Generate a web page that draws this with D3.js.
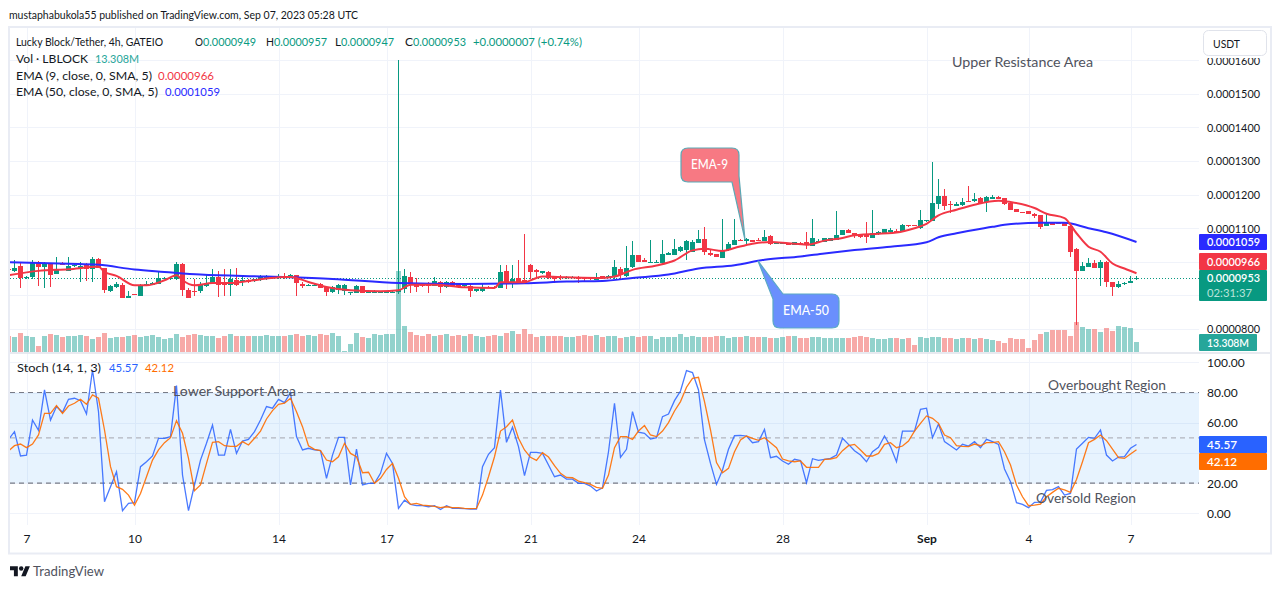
<!DOCTYPE html>
<html><head><meta charset="utf-8">
<script src="https://cdnjs.cloudflare.com/ajax/libs/d3/7.8.5/d3.min.js"></script>
<style>html,body{margin:0;padding:0;background:#fff;overflow:hidden}svg{display:block}text{font-family:Lato,"Noto Sans",sans-serif}</style>
</head><body><div id="c"></div>
<script>
// Prices are in units of 0.0000001 USDT. First entry of each bar array is the partly hidden bar before the first full one.
const open=[980,973,987,951,955,999,985,995,963,994,973,987,982,990,979,1008,983,913,925,932,892,903,898,932,932,934,950,951,950,993,917,912,912,928,938,954,940,930,947,942,947,942,946,952,952,952,958,957,962,935,929,929,933,924,910,917,913,907,907,927,908,908,908,908,908,909,919,956,934,934,934,929,941,926,941,934,927,929,912,912,926,926,921,974,934,952,946,989,976,966,971,957,955,952,953,955,952,952,946,957,954,959,979,957,984,1019,1004,997,997,996,1021,1020,1031,1036,1029,1056,1067,1026,1023,1010,1034,1049,1066,1062,1065,1066,1062,1076,1054,1053,1057,1050,1057,1058,1047,1058,1060,1063,1065,1080,1095,1085,1082,1082,1072,1083,1083,1088,1092,1090,1109,1109,1100,1120,1120,1172,1196,1172,1167,1169,1181,1181,1190,1178,1188,1194,1189,1176,1157,1148,1150,1142,1138,1107,1117,1116,1117,1107,1038,974,985,995,983,1000,940,925,935,937,949];
const close=[975,983,952,954,998,985,995,961,975,992,987,990,988,979,1008,983,915,927,935,892,899,901,930,935,938,953,952,953,993,915,892,910,930,938,954,932,932,950,931,945,939,949,957,955,955,959,955,961,937,928,932,931,922,910,924,930,930,909,927,907,910,909,910,909,910,917,959,934,926,927,927,944,924,941,927,924,931,914,918,924,923,922,971,934,949,936,936,969,969,972,952,950,952,956,956,950,949,948,955,953,958,986,961,982,1019,998,998,1000,1000,1022,1026,1037,1043,1061,1058,1067,1029,1021,1014,1031,1052,1064,1064,1068,1060,1062,1074,1054,1059,1058,1051,1058,1053,1050,1070,1062,1070,1070,1080,1095,1087,1077,1075,1075,1085,1089,1097,1095,1088,1110,1107,1107,1125,1123,1175,1196,1167,1170,1172,1179,1179,1187,1176,1194,1192,1187,1171,1155,1148,1146,1143,1137,1103,1117,1111,1114,1107,1030,974,988,997,983,1000,941,925,934,938,943,953];
const high=[985,1005,998,957,1005,1002,998,997,1013,1000,1013,992,998,995,1013,1010,983,930,940,938,912,905,935,943,940,970,956,955,998,995,923,950,940,962,980,972,978,978,981,958,949,950,960,962,957,965,967,965,962,940,935,937,937,925,927,933,935,909,930,927,915,915,913,912,912,1600,979,971,951,937,939,956,944,944,944,935,932,934,920,934,928,927,989,989,989,1006,1082,994,980,974,974,959,961,959,958,958,956,953,968,958,962,1004,986,1048,1061,1019,1010,1066,1004,1064,1029,1069,1047,1064,1066,1094,1105,1036,1023,1127,1059,1127,1068,1072,1065,1071,1094,1079,1059,1059,1057,1058,1058,1088,1127,1067,1070,1070,1151,1095,1097,1085,1084,1117,1154,1092,1097,1101,1099,1112,1111,1110,1154,1125,1297,1246,1217,1181,1177,1190,1226,1205,1194,1196,1198,1195,1190,1176,1157,1149,1150,1146,1139,1145,1118,1117,1118,1110,1040,1000,1012,1005,1005,1003,940,943,941,958,957];
const low=[970,970,922,949,950,928,922,925,963,990,973,985,940,943,940,983,908,910,923,892,892,900,898,930,932,934,948,947,945,898,892,898,908,925,935,895,898,898,928,928,937,941,943,947,950,948,950,953,898,922,927,927,922,897,908,903,900,900,907,907,908,907,907,907,907,905,906,906,909,925,906,927,906,922,926,923,926,896,911,911,921,921,921,919,921,934,934,949,954,964,949,936,946,948,952,936,939,947,946,952,952,949,949,956,981,998,998,997,996,996,1019,1019,1029,1004,1028,1056,1019,1017,1014,1010,1031,1049,1061,1054,1060,1061,1062,1049,1054,1053,1051,1050,1052,1038,1047,1056,1060,1063,1065,1080,1085,1070,1070,1057,1072,1080,1083,1085,1087,1090,1105,1106,1098,1119,1120,1156,1154,1144,1166,1167,1179,1177,1174,1148,1186,1187,1169,1155,1148,1145,1143,1131,1098,1107,1111,1113,1107,1013,812,974,984,983,928,926,899,923,932,936,947];
// Volume, millions
const volume=[21.3,19.5,25.3,21.3,20,8,21.3,24,22.6,20,21.3,21.3,22.6,21.3,17.3,20,25.3,18.6,20,20,21.3,22.6,20,21.3,22.6,20,17.3,18.6,24,20,22.6,24,22.6,21.3,21.3,18.6,21.3,24,21.3,21.3,21.3,21.3,21.3,22.6,21.3,21.3,21.3,22.6,24,21.3,22.6,21.3,24,22.6,25.3,21.3,1.3,10.6,25.3,20,18.6,24,22.6,24,24,107.7,34.6,26.6,22.6,21.3,24,21.3,22.6,24,21.3,22.6,21.3,24,21.3,20,21.3,22.6,21.3,25.3,28,24,30.6,24,20,21.3,21.3,21.3,21.3,20,20,21.3,22.6,21.3,22.6,20,21.3,21.3,18.6,20,21.3,20,21.3,21.3,17.3,20,20,20,24,20,21.3,20,20,20,21.3,21.3,18.6,20,20,21.3,20,20,20,18.6,18.6,20,21.3,21.3,18.6,18.6,20,20,18.6,18.6,18.6,18.6,18.6,20,21.3,20,18.6,17.3,17.3,18.6,18.6,17.3,18.6,9.3,20,18.6,20,20,18.6,18.6,17.3,18.6,18.6,17.3,18.6,17.3,16,14.6,12,18.6,17.3,17.3,5.3,16,24,26.6,29.2,29.2,29.2,21.3,39.9,33.2,30.6,30.6,26.6,31.9,28,34.6,33.2,31.9,13.308];
// Stochastic %K and %D
const stochK=[49,54.1,38,38.6,61.8,55,81.7,61.8,70.7,66.9,75.5,76.2,74.6,65.8,94.9,67.3,7.7,17.7,27.6,1.8,6.6,7.1,30.9,34.2,38,49.7,49.7,50.8,84.6,25.4,1.8,18.8,35.3,46.4,58.5,38.6,38.6,55.6,39.7,47.9,49,54.1,61.8,70.7,69.6,75.5,73.3,79.9,50.8,42,43.1,42,41.5,23.2,38.6,50.3,50.3,18.8,42.6,18.8,19.9,19.9,26.5,39.7,33.1,3.3,8.8,6,5.1,5.1,4.4,5.1,2.6,5.1,3.3,3.3,3.1,2.9,2.9,30.9,39.1,43.5,81.7,47,57,44.2,25,40.4,40.4,39.7,32,24.3,25.4,22.7,22.7,19.9,19.9,18.1,14.8,17,40.8,72.9,37.1,42.4,67.3,53.7,53,49.2,50.1,64,65.8,74.6,81,94.5,93.2,81.7,48.6,33.1,19.2,28.7,42.4,51.4,51.7,51.2,46.8,47.5,55.6,36.9,37.8,34.7,32.5,35.8,34.9,20.3,36.2,35.1,35.8,36.4,38.6,49.7,45.7,41.5,38.6,34.2,40.8,43.7,51.2,44.2,34.2,54.5,54.5,54.5,68.9,69.6,50.1,59.2,47.5,44.8,42,45.7,44.6,47.5,43.5,49,47.5,45.7,29.4,21,7.1,6,3.8,7.3,7.5,15.2,15.7,17.7,12.1,13.2,42.6,46.4,50.3,49.7,55.2,38.6,34.7,37.3,37.5,43.1,45.57];
const stochD=[41.3,44.8,45.9,43.5,45.9,51.9,66.2,66.2,71.3,66.2,71.1,72.9,75.5,72.2,78.4,76.2,55.2,30.9,17.7,15.9,12.1,5.5,13.2,24.3,35.3,42,46.8,50.1,61.4,53,36.4,15,18.8,33.1,47,47.5,44.8,44.4,44.4,47.5,45.3,49.7,54.5,62.5,68,72.2,72.9,76.2,67.3,57.4,44.8,42.4,41.5,35.3,34.2,37.5,46.4,39.7,37.5,26.9,27.2,19.9,23.2,29.1,33.1,23.2,11,6,6.6,5.5,5.1,4.6,3.8,4.4,3.8,3.8,3.3,3.1,3.3,12.1,24.3,37.5,54.5,57.4,61.8,49.7,42,37.1,35.1,40.2,37.3,31.6,26.5,23.8,23.6,21.4,20.3,19.2,17.2,16.6,25.4,43.5,50.8,50.8,49,54.5,58.1,51.9,50.8,54.5,60.1,67.8,74,83.5,89.4,90.1,74,55.2,33.6,26.9,29.8,40.8,48.6,51.2,49.7,48.4,50.1,46.8,43.5,36,34.7,34.2,34.7,30.5,30.5,30.5,35.8,36,36.9,41.5,44.8,45.7,42,38,38,39.7,45.7,46.8,43.5,44.6,47.9,54.5,59.6,64.5,62.9,59.6,51.9,50.1,44.8,44.4,44.2,45.9,44.8,46.8,46.8,47.5,40.8,32,18.8,11,5.1,5.5,6.2,11,13.9,16.6,15.5,13.9,22.5,34.2,46.8,49,51.9,48.1,42.6,36.9,36.4,39.3,42.12];
// Moving averages read at the bar numbers listed beside them
const ema50Bars=[-1,9,14,20,25,31,42,53,64,75,85,92,98,103,109,114,120,125,131,135,140,146,152,154,157,163,165,171,175,179,182,187];
const ema50=[999,994,991,977,970,962,956,949,937,934,936,941,943,952,962,980,990,1006,1016,1025,1035,1045,1058,1073,1085,1104,1110,1116,1116,1100,1088,1059];
const ema9Bars=[-1,4,9,14,15,17,20,22,25,27,28,30,33,36,39,42,45,46,49,52,56,61,64,66,70,75,80,81,85,87,88,92,98,100,103,107,110,113,115,118,120,123,126,129,132,135,138,140,147,150,152,154,157,160,164,166,170,172,175,177,179,181,183,185,187];
const ema9=[960,973,978,985,970,958,930,930,945,960,945,930,937,937,943,950,955,955,940,925,915,912,915,932,932,924,922,939,939,952,956,954,952,956,976,989,1004,1034,1039,1032,1041,1054,1059,1055,1051,1063,1071,1079,1087,1100,1113,1138,1155,1170,1182,1178,1160,1143,1130,1085,1045,1030,995,980,966];
// Axes
const dateBars=[2,20,44,62,86,104,128,152,169,186];
const dateLabels=["7","10","14","17","21","24","28","Sep","4","7"];
const gridPriceTicks=[800,900,1000,1100,1200,1300,1400,1500,1600];
const priceLabels=[800,1100,1200,1300,1400,1500,1600];
const stochTicks=[0,20,40,60,80,100];
const stochLabels=[0,20,60,80,100];
const lastPrice=953, lastEma9=966, lastEma50=1059, lastVol=13.308, lastK=45.57, lastD=42.12;

for(const a of [open,close,high,low,volume,stochK,stochD]) if(a.length!==189) throw new Error("len "+a.length);
if(ema50.length!==ema50Bars.length||ema9.length!==ema9Bars.length) throw new Error("ema len");

const W=1281,H=589,L=10,R=1199,T=28,MB=352,SB=525;
const UP="#089981",DN="#f23645",INK="#131722",GREY="#50535e",GRID="#f0f3fa",BORDER="#e9ecf4";
const x=d3.scaleLinear().domain([0,187]).range([14.5,14.5+6*187]);
const y=d3.scaleLinear().domain([800,1600]).range([329,60.2]);
const yV=d3.scaleLinear().domain([0,107.7]).range([352,271]);
const yS=d3.scaleLinear().domain([0,100]).range([513.4,362.3]);
const bars=d3.range(189).map(k=>({b:k-1,o:open[k],c:close[k],h:high[k],l:low[k],v:volume[k],k:stochK[k],d:stochD[k]}));
const fmt=v=>(v*1e-7).toFixed(7);

const svg=d3.select("#c").append("svg").attr("width",W).attr("height",H).attr("viewBox",`0 0 ${W} ${H}`);
svg.append("defs").append("clipPath").attr("id","plot").append("rect").attr("x",L).attr("y",T).attr("width",R-L).attr("height",SB-T);
const txt=(p,X,Y,s,o={})=>{const t=p.append("text").attr("x",X).attr("y",Y).attr("dy","0.35em").attr("font-size",o.size||12).attr("fill",o.fill||INK).attr("text-anchor",o.anchor||"start").text(s);
  if(o.w) t.attr("textLength",o.w).attr("lengthAdjust","spacingAndGlyphs"); if(o.weight) t.attr("font-weight",o.weight); return t;};

// Grid
const grid=svg.append("g");
grid.append("g").call(d3.axisBottom(x).tickValues(dateBars).tickSize(SB-T).tickFormat("")).attr("transform",`translate(0,${T})`).call(g=>g.select(".domain").remove()).selectAll("line").attr("stroke",GRID).attr("stroke-width",1).attr("shape-rendering","crispEdges");
grid.append("g").call(d3.axisRight(y).tickValues(gridPriceTicks).tickSize(R-L).tickFormat("")).attr("transform",`translate(${L},0)`).call(g=>g.select(".domain").remove()).selectAll("line").attr("stroke",GRID).attr("shape-rendering","crispEdges");
grid.append("g").call(d3.axisRight(yS).tickValues(stochTicks).tickSize(R-L).tickFormat("")).attr("transform",`translate(${L},0)`).call(g=>g.select(".domain").remove()).selectAll("line").attr("stroke",GRID).attr("shape-rendering","crispEdges");

// Frame
const frame=svg.append("g").attr("fill","none").attr("stroke",BORDER).attr("stroke-width",2);
frame.append("rect").attr("x",9).attr("y",27).attr("width",1262).attr("height",526.5);
svg.append("line").attr("x1",10).attr("x2",1270).attr("y1",353).attr("y2",353).attr("stroke","#e0e3eb").attr("stroke-width",1.5);

const plot=svg.append("g").attr("clip-path","url(#plot)");
// Stochastic band
plot.append("rect").attr("x",L).attr("width",R-L).attr("y",yS(80)).attr("height",yS(20)-yS(80)).attr("fill","#2196f3").attr("fill-opacity",0.11);
[[80,"#787b86"],[20,"#787b86"],[50,"#b2b5be"]].forEach(([v,c])=>plot.append("line").attr("x1",L).attr("x2",R).attr("y1",yS(v)).attr("y2",yS(v)).attr("stroke",c).attr("stroke-width",1.2).attr("stroke-dasharray","5 4"));
// Volume
plot.append("g").selectAll("rect").data(bars).join("rect").attr("x",d=>x(d.b)-2.5).attr("width",5).attr("y",d=>yV(d.v)).attr("height",d=>yV(0)-yV(d.v)).attr("fill",d=>d.c>=d.o?"#26a69a":"#ef5350").attr("fill-opacity",0.5).attr("shape-rendering","crispEdges");
// Last price line
const lastY=Math.round(y(lastPrice))+0.5;
plot.append("line").attr("x1",L).attr("x2",R).attr("y1",lastY).attr("y2",lastY).attr("stroke",UP).attr("stroke-width",1).attr("stroke-dasharray","1 2");
// Candles
const cg=plot.append("g").attr("shape-rendering","crispEdges");
cg.selectAll("rect.w").data(bars).join("rect").attr("class","w").attr("x",d=>x(d.b)-0.5).attr("width",1).attr("y",d=>y(d.h)).attr("height",d=>y(d.l)-y(d.h)).attr("fill",d=>d.c>=d.o?UP:DN);
cg.selectAll("rect.b").data(bars).join("rect").attr("class","b").attr("x",d=>x(d.b)-2.5).attr("width",5).attr("y",d=>y(Math.max(d.o,d.c))).attr("height",d=>Math.max(1,Math.abs(y(d.o)-y(d.c)))).attr("fill",d=>d.c>=d.o?UP:DN);
// EMAs
const emaLine=d3.line().x(d=>x(d[0])).y(d=>y(d[1])).curve(d3.curveMonotoneX);
plot.append("path").attr("d",emaLine(d3.zip(ema50Bars,ema50))).attr("fill","none").attr("stroke","#2a2aff").attr("stroke-width",2);
plot.append("path").attr("d",emaLine(d3.zip(ema9Bars,ema9))).attr("fill","none").attr("stroke","#f23645").attr("stroke-width",2);
// Stoch lines
const sl=key=>d3.line().x(d=>x(d.b)).y(d=>yS(d[key]));
plot.append("path").attr("d",sl("k")(bars)).attr("fill","none").attr("stroke","#2962ff").attr("stroke-width",1.3).attr("stroke-opacity",.85);
plot.append("path").attr("d",sl("d")(bars)).attr("fill","none").attr("stroke","#ff6d00").attr("stroke-width",1.3).attr("stroke-opacity",.9);

// Axis labels
const styleAxis=g=>{g.select(".domain").remove();g.selectAll("line").remove();g.selectAll("text").attr("fill",INK).attr("font-size",12);};
const pAx=svg.append("g").attr("transform",`translate(1207,0)`).call(d3.axisRight(y).tickValues(priceLabels).tickSize(0).tickPadding(0).tickFormat(fmt)).call(styleAxis);
pAx.selectAll("text").attr("textLength",53).attr("lengthAdjust","spacingAndGlyphs");
svg.append("g").attr("transform",`translate(1207,0)`).call(d3.axisRight(yS).tickValues(stochLabels).tickSize(0).tickPadding(0).tickFormat(d=>d3.format(".2f")(d))).call(styleAxis);
const xAx=svg.append("g").attr("transform",`translate(0,534.5)`).call(d3.axisBottom(x).tickValues(dateBars).tickSize(0).tickPadding(0).tickFormat((d,i)=>dateLabels[i])).call(styleAxis);
xAx.selectAll("text").attr("dy","0.71em");
xAx.selectAll("text").filter((d,i)=>dateLabels[i]==="Sep").attr("font-weight",700);

// Axis badges
const badge=(yy,h,w,fill,lines)=>{const g=svg.append("g");g.append("rect").attr("x",R).attr("y",yy).attr("width",w).attr("height",h).attr("rx",1).attr("fill",fill);
  lines.forEach(l=>txt(g,l.x||1207,l.y,l.s,{fill:l.fill||"#fff",w:l.w,weight:l.weight}));};
badge(y(lastEma50)-8,16,68,"#2a2aff",[{y:y(lastEma50),s:fmt(lastEma50),w:53,weight:600}]);
badge(253,17,68,"#f23645",[{y:261.5,s:fmt(lastEma9),w:53,weight:600}]);
badge(270,31,68,UP,[{y:278,s:fmt(lastPrice),w:53,weight:600},{y:292.5,s:"02:31:37",w:45,fill:"#b9e3da"}]);
badge(yV(0)-18,17,58,"#26a69a",[{y:yV(0)-9.5,s:lastVol.toFixed(3)+"M",w:42,weight:600}]);
badge(yS(lastK)-8.5,17,68,"#2962ff",[{y:yS(lastK),s:lastK.toFixed(2),w:30,weight:600}]);
badge(yS(lastK)+8.5,17,68,"#ff6d00",[{y:yS(lastK)+17,s:lastD.toFixed(2),w:30,weight:600}]);

// USDT button (its white surround hides the top of the highest price label)
svg.append("rect").attr("x",1200).attr("y",29).attr("width",69).attr("height",29).attr("fill","#fff");
svg.append("rect").attr("x",1203.5).attr("y",30.5).attr("width",63).attr("height",25).attr("rx",5).attr("fill","#fff").attr("stroke","#e0e3eb");
txt(svg,1213,43.5,"USDT",{w:27});

// Header and legend
txt(svg,9,15,"mustaphabukola55 published on TradingView.com, Sep 07, 2023 05:28 UTC",{w:349});
txt(svg,16,42,"Lucky Block/Tether, 4h, GATEIO",{w:147});
[["O",195,fmt(949)],["H",266,fmt(957)],["L",335,fmt(947)],["C",405,fmt(953)]].forEach(([k,X,v])=>{txt(svg,X,42,k,{w:k==="L"?6:8});txt(svg,X+(k==="L"?6:8),42,v,{fill:UP,w:53});});
txt(svg,473,42,"+0.0000007 (+0.74%)",{fill:UP,w:109});
txt(svg,16,59,"Vol · LBLOCK",{w:72});
txt(svg,95,59,"13.308M",{fill:"#26a69a",w:44});
txt(svg,16,76,"EMA (9, close, 0, SMA, 5)",{w:136});
txt(svg,158,76,fmt(lastEma9),{fill:DN,w:56});
txt(svg,16,92,"EMA (50, close, 0, SMA, 5)",{w:142});
txt(svg,165,92,fmt(lastEma50),{fill:"#2a2aff",w:55});
txt(svg,17,368,"Stoch (14, 1, 3)",{w:84});
txt(svg,109,368,lastK.toFixed(2),{fill:"#2962ff",w:29});
txt(svg,145,368,lastD.toFixed(2),{fill:"#ff6d00",w:29});

// Free text annotations
txt(svg,952,62,"Upper Resistance Area",{size:13,fill:GREY,w:141});
txt(svg,173,391,"Lower Support Area",{size:13,fill:GREY,w:123});
txt(svg,1048,385,"Overbought Region",{size:13,fill:GREY,w:118});
txt(svg,1036,498,"Oversold Region",{size:13,fill:GREY,w:100});

// Callouts
const r=7;
const t9=[x(121.75),y(1065)], t50=[x(123.9),y(1003)];
svg.append("path").attr("d",`M${681+r},148H${739-r}Q739,148 739,${148+r}V176L${t9[0]},${t9[1]}L732,182H${681+r}Q681,182 681,${182-r}V${148+r}Q681,148 ${681+r},148Z`).attr("fill","#f7727c").attr("fill-opacity",.95).attr("stroke","#5aa9b6").attr("stroke-width",1.2);
txt(svg,691,164,"EMA-9",{size:13,fill:"#fff",w:37,weight:500});
svg.append("path").attr("d",`M783,294H${839-r}Q839,294 839,${294+r}V${328-r}Q839,328 ${839-r},328H${773+r}Q773,328 773,${328-r}V299L${t50[0]},${t50[1]}Z`).attr("fill","#6a8ffd").attr("stroke","#5aa9c6").attr("stroke-width",1.2);
txt(svg,783,310,"EMA-50",{size:13,fill:"#fff",w:46,weight:500});

// Footer
const logo=svg.append("g").attr("transform","translate(10,564) scale(.56)").attr("fill",INK);
logo.append("path").attr("d","M14 22H7V11H0V4h14v18zM28 22h-8l7.5-18h8L28 22z");
logo.append("circle").attr("cx",20).attr("cy",8).attr("r",4);
txt(svg,33,571.5,"TradingView",{size:13,fill:GREY,w:71});
</script></body></html>
